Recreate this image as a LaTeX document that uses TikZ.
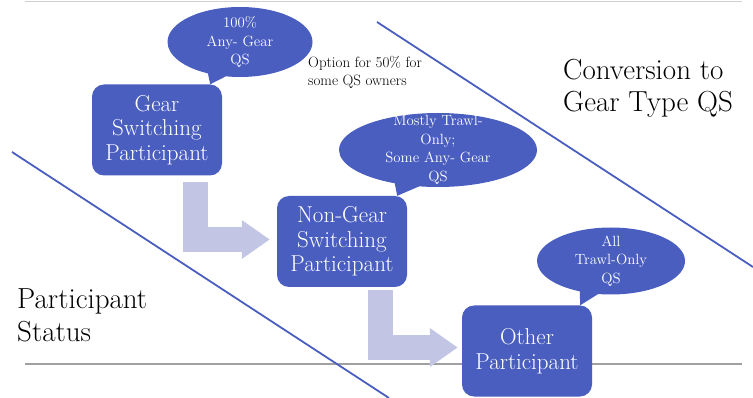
\documentclass[tikz,border=0pt]{standalone}
\usetikzlibrary{arrows.meta,shapes.callouts}
\definecolor{boxblue}{RGB}{74,94,192}
\definecolor{flowlav}{RGB}{194,198,228}
\definecolor{rulegray}{RGB}{160,160,160}
\begin{document}
\begin{tikzpicture}[x=1pt,y=-1pt,
  part/.style={fill=boxblue,text=white,rounded corners=12pt,minimum width=130pt,minimum height=91pt,align=center,font=\fontsize{23}{24.5}\selectfont},
  bubble/.style={ellipse callout,fill=boxblue,text=white,inner xsep=0pt,inner ysep=-15pt,align=center,font=\fontsize{14.8}{18.5}\selectfont},
  flow/.style={draw=flowlav,line width=25pt,-{Triangle[width=37pt,length=28pt]}},
  note/.style={inner sep=0pt,align=left,anchor=west}]
\useasboundingbox (0,0) rectangle (753,398);
\draw[rulegray!50] (25,1) -- (742,1);
\draw[rulegray,line width=1.2pt] (25,364) -- (742,364);
\draw[boxblue,line width=1.8pt] (12,152) -- (389,398);
\draw[boxblue,line width=1.8pt] (377,22) -- (753,267);
\node[part] (gear) at (157,130) {Gear\\Switching\\Participant};
\node[part] (nongear) at (342,241.5) {Non-Gear\\Switching\\Participant};
\node[part] (other) at (527,351) {Other\\Participant};
\node[bubble,minimum width=145pt,minimum height=70pt,callout absolute pointer={([xshift=-12pt]gear.north east)}] (qs100) at (240,42) {100\%\\Any- Gear\\QS};
\node[bubble,minimum width=198pt,minimum height=74pt,callout absolute pointer={([xshift=-10pt]nongear.north east)}] (qsmost) at (438,150) {Mostly Trawl-\\Only;\\Some Any- Gear\\QS};
\node[bubble,minimum width=148pt,minimum height=67pt,callout absolute pointer={([xshift=-12pt]other.north east)}] (qsall) at (611,261) {All\\Trawl-Only\\QS};
\draw[flow] ([xshift=38pt,yshift=-6pt]gear.south) |- ([xshift=-7pt,yshift=2pt]nongear.west);
\draw[flow] ([xshift=38pt,yshift=-3pt]nongear.south) |- ([xshift=-4pt,yshift=3.5pt]other.west);
\node[note,font=\fontsize{15}{18.5}\selectfont] (option) at (308,72.5) {Option for 50\% for\\some QS owners};
\node[note,font=\fontsize{29}{32}\selectfont] (convert) at (563,88.5) {Conversion to\\Gear Type QS};
\node[note,font=\fontsize{29}{33}\selectfont] (status) at (17,315) {Participant\\Status};
\end{tikzpicture}
\end{document}
